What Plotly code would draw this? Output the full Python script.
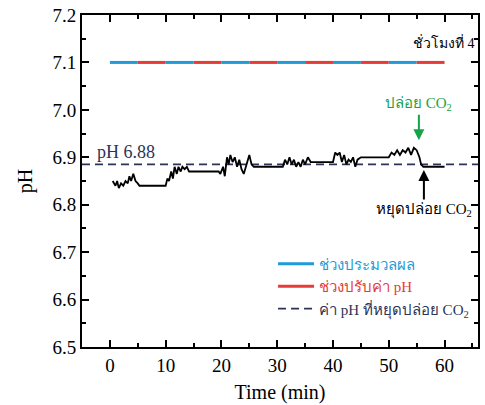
import plotly.graph_objects as go

# ---- data ----
phase_edges = [0, 5, 10, 15, 20, 25, 30, 35, 40, 45, 50, 55, 60]
phase_level = 7.1
stop_ph = 6.885

time_min = [0.5, 1.0, 1.3, 1.6, 2.0, 2.4, 2.8, 3.2, 3.5, 3.8, 4.2, 4.6, 5.0, 5.3,
            10.0, 10.3, 10.6, 11.0, 11.3, 11.6, 12.0, 12.3, 12.7, 13.0, 13.4, 13.8, 14.2,
            19.5, 19.8, 20.3, 20.6, 21.0, 21.3, 21.6, 22.0, 22.4, 22.8, 23.2, 23.6, 24.0,
            24.5, 25.0, 25.4, 25.8, 31.0, 31.4, 31.8, 32.2, 32.6, 33.0, 33.4, 33.8, 34.2,
            34.6, 35.0, 35.5, 36.0, 40.0, 40.4, 40.8, 41.2, 41.6, 42.0, 42.4, 42.8, 43.2,
            43.6, 44.0, 44.4, 45.0, 50.0, 50.5, 51.0, 51.5, 52.0, 52.5, 53.0, 53.5, 54.0,
            54.5, 55.0, 55.5, 55.8, 56.2, 60.0]
ph_values = [6.85, 6.84, 6.85, 6.835, 6.845, 6.84, 6.85, 6.845, 6.86, 6.85, 6.865, 6.85, 6.845, 6.84,
             6.84, 6.855, 6.85, 6.87, 6.855, 6.88, 6.865, 6.88, 6.87, 6.88, 6.875, 6.88, 6.87,
             6.87, 6.865, 6.88, 6.86, 6.90, 6.885, 6.905, 6.89, 6.90, 6.88, 6.895, 6.875, 6.865,
             6.885, 6.905, 6.885, 6.88, 6.88, 6.895, 6.885, 6.90, 6.885, 6.895, 6.88, 6.89, 6.88,
             6.895, 6.885, 6.90, 6.89, 6.89, 6.91, 6.905, 6.91, 6.89, 6.905, 6.885, 6.895, 6.89,
             6.90, 6.88, 6.895, 6.90, 6.90, 6.91, 6.905, 6.915, 6.905, 6.915, 6.91, 6.92, 6.905,
             6.92, 6.915, 6.90, 6.885, 6.88, 6.88]

x_ticks = [0, 10, 20, 30, 40, 50, 60]
y_ticks = [6.5, 6.6, 6.7, 6.8, 6.9, 7.0, 7.1, 7.2]

BLUE = "#1f9bd7"
RED = "#e63b36"
NAVY = "#2c3358"
GREEN = "#17a34a"
SERIF = "Liberation Serif, Times New Roman, serif"

# build alternating segments
bx, by, rx, ry = [], [], [], []
for i in range(len(phase_edges) - 1):
    seg_x = [phase_edges[i], phase_edges[i + 1], None]
    seg_y = [phase_level, phase_level, None]
    if i % 2 == 0:
        bx += seg_x; by += seg_y
    else:
        rx += seg_x; ry += seg_y

fig = go.Figure()
fig.add_trace(go.Scatter(x=bx, y=by, mode="lines", line=dict(color=BLUE, width=3),
                         name=f"<span style='color:{BLUE}'>ช่วงประมวลผล</span>"))
fig.add_trace(go.Scatter(x=rx, y=ry, mode="lines", line=dict(color=RED, width=3),
                         name=f"<span style='color:{RED}'>ช่วงปรับค่า pH</span>"))
fig.add_trace(go.Scatter(x=[-5, 66], y=[stop_ph, stop_ph], mode="lines",
                         line=dict(color=NAVY, width=1.6, dash="8px,5px"),
                         name="ค่า pH ที่หยุดปล่อย CO<sub>2</sub>"))
fig.add_trace(go.Scatter(x=time_min, y=ph_values, mode="lines",
                         line=dict(color="black", width=1.8), showlegend=False))

fig.add_annotation(x=-2.7, y=6.911, text="pH 6.88", showarrow=False, xanchor="left",
                   font=dict(family=SERIF, size=18, color=NAVY))
fig.add_annotation(x=65.9, y=7.143, text="ชั่วโมงที่ 4", showarrow=False, xanchor="right",
                   font=dict(family=SERIF, size=14, color="black"))
fig.add_annotation(x=55.4, y=6.936, text="ปล่อย CO<sub>2</sub>", showarrow=True,
                   ax=0, ay=-36, arrowhead=2, arrowsize=1.1, arrowwidth=2, arrowcolor=GREEN,
                   font=dict(family=SERIF, size=15, color=GREEN))
fig.add_annotation(x=56.3, y=6.873, text="หยุดปล่อย CO<sub>2</sub>", showarrow=True,
                   ax=0, ay=40, arrowhead=2, arrowsize=1.1, arrowwidth=2, arrowcolor="black",
                   font=dict(family=SERIF, size=15, color="black"))

axis_common = dict(showline=True, linecolor="black", linewidth=2, mirror="allticks",
                   ticks="inside", ticklen=7, tickwidth=1.5, tickcolor="black",
                   showgrid=False, zeroline=False,
                   tickfont=dict(family=SERIF, size=19, color="black"))

fig.update_xaxes(range=[-5, 66], tickvals=x_ticks,
                 minor=dict(dtick=5, tick0=0, ticks="inside", ticklen=4, tickcolor="black"),
                 title=dict(text="Time (min)", font=dict(family=SERIF, size=20, color="black"),
                            standoff=10),
                 **axis_common)
fig.update_yaxes(range=[6.5, 7.2], tickvals=y_ticks, tickformat=".1f",
                 minor=dict(dtick=0.05, tick0=6.5, ticks="inside", ticklen=4, tickcolor="black"),
                 title=dict(text="pH", font=dict(family=SERIF, size=20, color="black"),
                            standoff=14),
                 **axis_common)

fig.update_layout(
    width=485, height=405,
    margin=dict(l=82, r=5, t=15, b=58),
    paper_bgcolor="white", plot_bgcolor="white",
    showlegend=True,
    legend=dict(x=0.99, y=0.30, xanchor="right", yanchor="top",
                bgcolor="rgba(0,0,0,0)", borderwidth=0,
                font=dict(family=SERIF, size=15, color=NAVY),
                tracegroupgap=0, itemwidth=36),
)

fig.write_html("out.html")
